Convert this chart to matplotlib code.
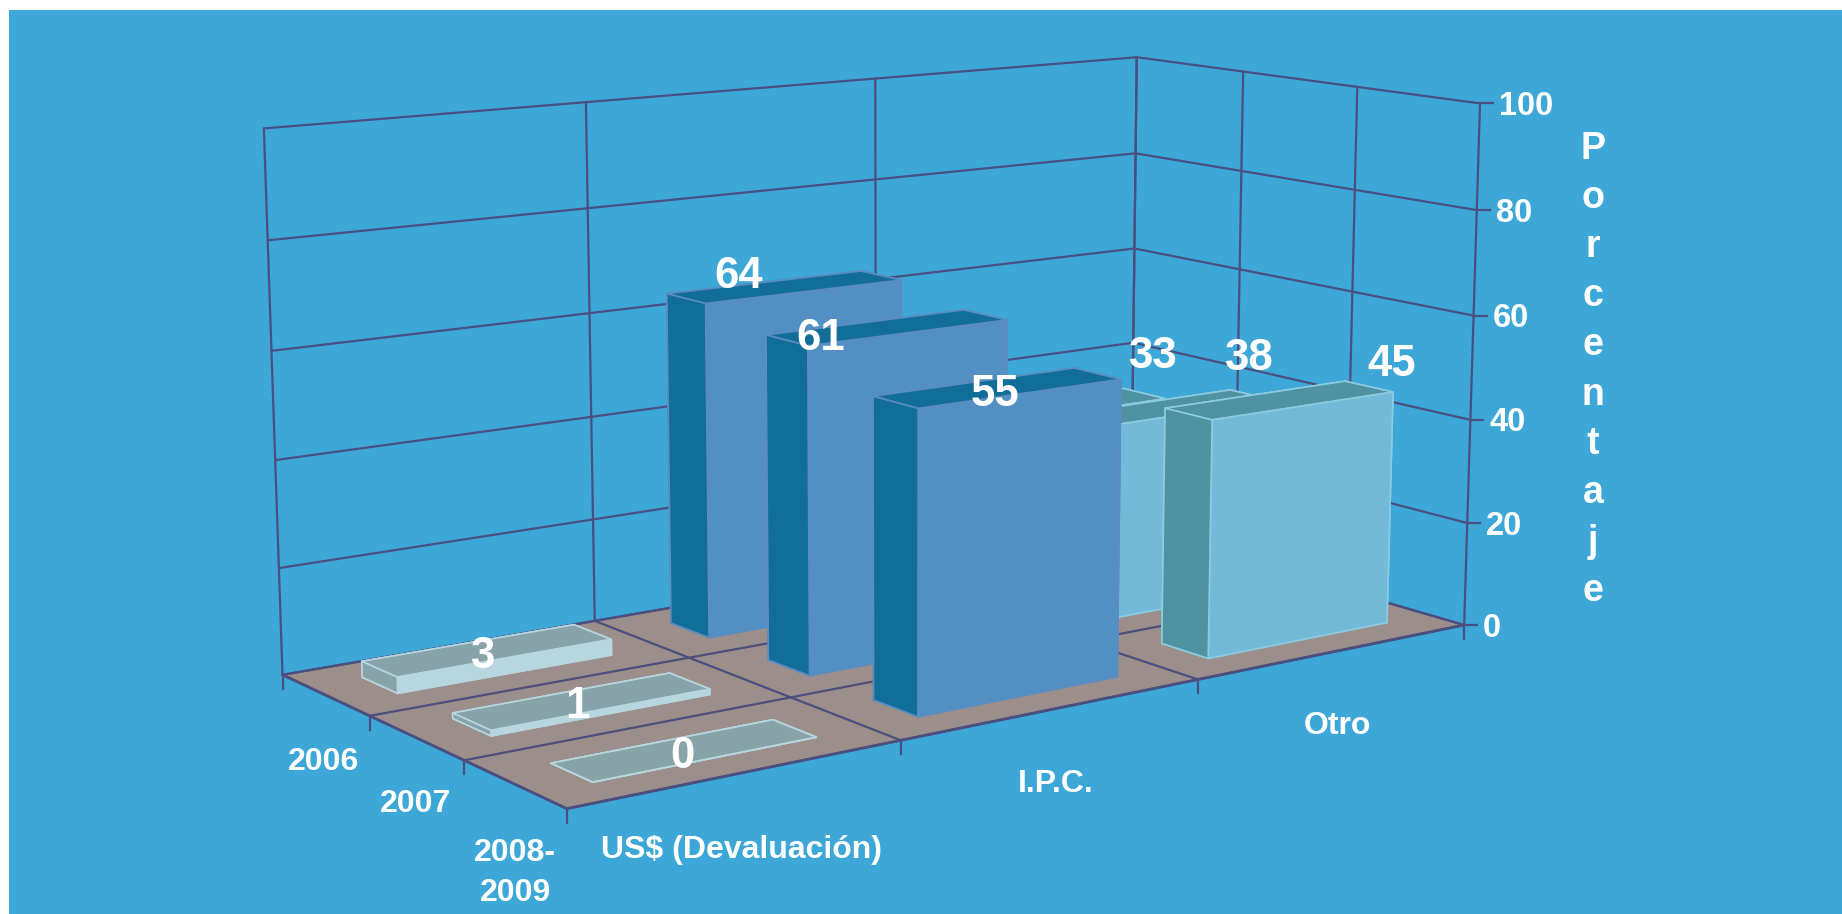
import matplotlib
matplotlib.use('Agg')
import matplotlib.pyplot as plt
import numpy as np
from matplotlib.lines import Line2D
from matplotlib.patches import Rectangle
from mpl_toolkits.mplot3d.art3d import Poly3DCollection

W, H = 1842, 914

categories = ['US$ (Devaluación)', 'I.P.C.', 'Otro']
years = ['2006', '2007', '2008-\n2009']
us_values = [3, 1, 0]
ipc_values = [64, 61, 55]
otro_values = [33, 38, 45]
z_ticks = [0, 20, 40, 60, 80, 100]

plt.rcParams['font.family'] = ['Liberation Sans', 'DejaVu Sans']
plt.rcParams['font.weight'] = 'bold'

BG = '#3da7d7'
GRID = '#4a4f80'
FLOOR = '#9c8e8a'
# front, side/top, edge for each category
FACE = ['#b7d6e0', '#5290c4', '#73bad9']
SIDE = ['#87a3a9', '#106e99', '#4f92a1']
EDGE = ['#b7d6e0', '#5c8cc0', '#8ccbe0']
TOP = ['#87a3a9', '#106e99', '#4f92a1']

BAR_X_START = 0.165
BAR_X_SIZE = 0.675
BAR_Y_INSET = 0.30

# camera calibration: box position -> pixel in the figure
cal_world = [
    (0, 0, 0), (0, 3, 0), (3, 0, 0), (0, 3, 100), (3, 3, 100), (3, 0, 100),
    (3, 0, 80), (3, 0, 60), (3, 0, 40), (3, 0, 20),
    (0, 3, 80), (0, 3, 60), (0, 3, 40), (0, 3, 20),
    (3, 3, 80), (3, 3, 60), (3, 3, 40),
    (1, 0, 0), (2, 0, 0), (0, 1, 0), (0, 2, 0),
    (3, 2, 100), (3, 1, 100), (1, 3, 100), (2, 3, 100),
    (1, 1, 0), (1, 2, 0), (1, 3, 0),
]
cal_pixel = [
    (567, 808.5), (281.5, 675), (1464, 625.7), (263, 128.5), (1137.3, 56.7), (1480, 102.7),
    (1477.7, 210.3), (1472.7, 316.7), (1470.7, 420.3), (1466.7, 522.3),
    (268, 241), (272.5, 350), (276, 460.5), (279.5, 567.5),
    (1135.3, 153.3), (1134.3, 249.3), (1132.7, 341.7),
    (902, 740), (1199, 679), (462, 760), (368.6, 716.7),
    (1243.3, 71.7), (1356.7, 86.7), (586, 102), (875, 79),
    (790, 697), (691, 658), (595, 621),
]

# value label centres, pixels
us_label_px = [(482, 656), (577, 706), (682, 756)]
ipc_label_px = [(739, 276), (821, 339), (995, 395)]
otro_label_px = [(1152, 357), (1248, 358), (1392, 365)]
cat_label_px = [(741, 850), (1056, 784), (1337, 726)]
year_label_px = [(323, 762), (415, 804), (515, 873)]


def fit_camera(world, pixel):
    rows = []
    for (x, y, z), (px, py) in zip(world, pixel):
        X = [x, y, z * 0.03, 1.0]
        u, v = px / W, 1 - py / H
        rows.append(X + [0, 0, 0, 0] + [-u * a for a in X])
        rows.append([0, 0, 0, 0] + X + [-v * a for a in X])
    _, _, vt = np.linalg.svd(np.array(rows))
    P = vt[-1].reshape(3, 4) @ np.diag([1, 1, 0.03, 1])
    if P[2] @ np.array([1.5, 1.5, 50, 1]) < 0:
        P = -P
    P = P / (P[2] @ np.array([1.5, 1.5, 50, 1]))
    return np.vstack([P[0], P[1], [0, 0, 0, -1], P[2]])


M = fit_camera(cal_world, cal_pixel)


def project(x, y, z):
    q = M @ np.array([x, y, z, 1.0])
    return q[0] / q[3], q[1] / q[3]


def fig_xy(px, py):
    return px / W, 1 - py / H


fig = plt.figure(figsize=(W / 100, H / 100), dpi=100, facecolor='white')
fig.add_artist(Rectangle((9 / W, 0), 1, 1 - 10 / H, transform=fig.transFigure,
                         facecolor=BG, edgecolor='none', zorder=-1))

ax = fig.add_axes([0, 0, 1, 1], projection='3d', computed_zorder=False)
ax.set_axis_off()
ax.set_facecolor('none')
# fixed camera, the view is the one of the original picture
ax.get_proj = lambda: M
ax.apply_aspect = lambda position=None: None
ax.viewLim.intervalx = (0, 1)
ax.viewLim.intervaly = (0, 1)

floor = Poly3DCollection([[(0, 0, 0), (3, 0, 0), (3, 3, 0), (0, 3, 0)]],
                         facecolor=FLOOR, edgecolor='none', zorder=1)
ax.add_collection3d(floor)


def grid_line(xs, ys, zs, lw=1.6, zorder=2):
    ax.plot(xs, ys, zs, color=GRID, lw=lw, zorder=zorder, solid_capstyle='round')


for z in z_ticks:
    grid_line([0, 3], [3, 3], [z, z])
    grid_line([3, 3], [3, 0], [z, z])
for i in range(4):
    grid_line([i, i], [3, 3], [0, 100])
    grid_line([3, 3], [i, i], [0, 100])
    grid_line([i, i], [0, 3], [0, 0])
    grid_line([0, 3], [i, i], [0, 0])
grid_line([0, 3], [0, 0], [0, 0], lw=2.0, zorder=3)
grid_line([0, 0], [0, 3], [0, 0], lw=2.0, zorder=3)

# bars, back row first
series = [us_values, ipc_values, otro_values]
for row in range(3):
    ypos = 2 - row
    for c, vals in enumerate(series):
        # order of faces: bottom, top, front, back, left, right
        colors = [SIDE[c], TOP[c], FACE[c], SIDE[c], SIDE[c], FACE[c]]
        ax.bar3d(c + BAR_X_START, ypos + BAR_Y_INSET, 0,
                 BAR_X_SIZE, 1 - 2 * BAR_Y_INSET, vals[row],
                 color=colors, shade=False, edgecolor=EDGE[c], linewidth=1.2,
                 zorder=10 + row * 3 + c)

# axis ticks
for z in z_ticks:
    u, v = project(3, 0, z)
    fig.add_artist(Line2D([u, u + 13 / W], [v, v], color=GRID, lw=1.6,
                          transform=fig.transFigure))
    fig.text(u + 19 / W, v - 3 / H, str(z), color='white', fontsize=23.5,
             ha='left', va='center')
for i in range(3):
    for u, v in (project(i + 1, 0, 0), project(0, i, 0)):
        fig.add_artist(Line2D([u, u], [v, v - 14 / H], color=GRID, lw=1.6,
                              transform=fig.transFigure))
u, v = project(0, 3, 0)
fig.add_artist(Line2D([u, u], [v, v - 14 / H], color=GRID, lw=1.6, transform=fig.transFigure))

for name, (px, py) in zip(categories, cat_label_px):
    fx, fy = fig_xy(px, py)
    fig.text(fx, fy, name, color='white', fontsize=23, ha='center', va='center')
for name, (px, py) in zip(years, year_label_px):
    fx, fy = fig_xy(px, py)
    fig.text(fx, fy, name, color='white', fontsize=23, ha='center', va='center', linespacing=1.4)

for vals, label_px in zip(series, (us_label_px, ipc_label_px, otro_label_px)):
    for val, (px, py) in zip(vals, label_px):
        fx, fy = fig_xy(px, py)
        fig.text(fx, fy, str(val), color='white', fontsize=31.5, ha='center', va='center')

fig.text(1593 / W, 1 - 370 / H, '\n'.join('Porcentaje'), color='white', fontsize=27,
         ha='center', va='center', linespacing=1.47)

fig.savefig('out.png', dpi=100)
